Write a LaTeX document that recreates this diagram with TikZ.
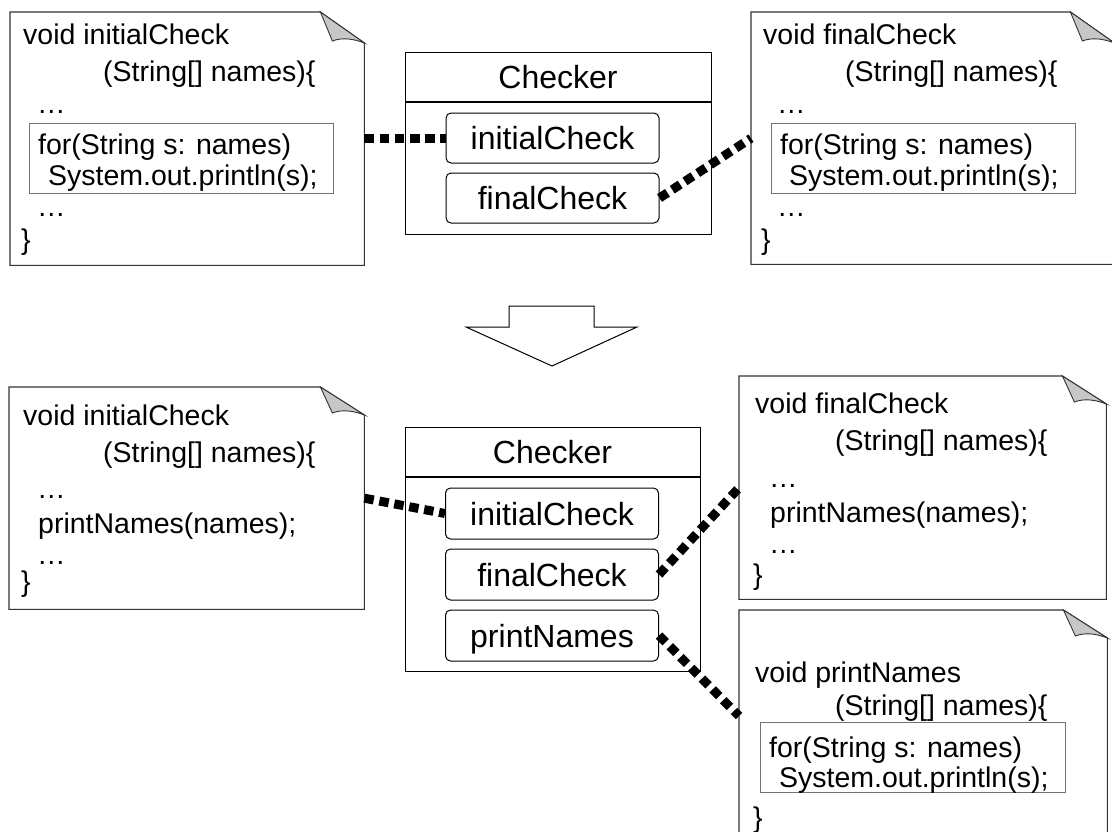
\documentclass[tikz,border=0pt]{standalone}
\usepackage{fontspec}
\setmainfont{Liberation Sans}
\newcommand\drawnote[2]{% #1 = note node, #2 = fold depth
  \path[noteline] (#1.south west) -- (#1.north west) -- ([xshift=-44pt]#1.north east)
    -- ([yshift=-#2pt]#1.north east) -- (#1.south east) -- cycle;
  \path[fold] ([xshift=-44pt]#1.north east) -- ([xshift=-32pt,yshift=-#2pt+2pt]#1.north east)
    .. controls ([xshift=-22pt,yshift=-#2pt+6pt]#1.north east) and ([xshift=-10pt,yshift=-#2pt+4pt]#1.north east)
    .. ([yshift=-#2pt]#1.north east) -- cycle;}
\begin{document}
\begin{tikzpicture}[x=1pt,y=-1pt,
  notearea/.style={inner sep=0pt, anchor=north west},
  notetxt/.style={anchor=base west, inner sep=0pt, font=\fontsize{28.5}{34}\selectfont},
  noteline/.style={draw=black!80, line width=1.1pt, fill=white},
  fold/.style={draw=black!80, line width=0.9pt, fill=black!22},
  loopbox/.style={draw=black!55, line width=1pt, inner sep=0pt, anchor=north west},
  clsbox/.style={draw=black, line width=1.2pt, inner sep=0pt, anchor=north west},
  clsname/.style={inner sep=0pt, text height=23pt, text depth=0pt, font=\fontsize{32}{38}\selectfont},
  method/.style={draw=black, line width=1pt, rounded corners=5pt, minimum width=213pt,
    minimum height=50pt, inner sep=0pt, text height=23pt, text depth=0pt,
    font=\fontsize{32}{38}\selectfont},
  conn/.style={line width=9pt, dash pattern=on 9.5pt off 5.7pt},
  bigarrow/.style={draw=black, line width=1pt, fill=white}
]
\clip (0,0) rectangle (1112,831);

% ---------- before: notes ----------
\node[notearea, minimum width=354pt, minimum height=253pt] (n1) at (10,12) {};
\drawnote{n1}{31}
\node[notetxt] (a1) at (23,44) {void initialCheck};
\node[notetxt] (a2) at (103,81) {(String[] names)\{};
\node[notetxt] (a3) at (37,113) {…};
\node[loopbox, minimum width=304pt, minimum height=70pt] (a4) at (29,123) {};
\node[notetxt] (a5) at (38,154) {for(String s: names)};
\node[notetxt] (a6) at (48,185) {System.out.println(s);};
\node[notetxt] (a7) at (37,216) {…};
\node[notetxt] (a8) at (21,249) {\}};

\node[notearea, minimum width=363pt, minimum height=252pt] (n2) at (751,12) {};
\drawnote{n2}{31}
\node[notetxt] (b1) at (763,44) {void finalCheck};
\node[notetxt] (b2) at (845,81) {(String[] names)\{};
\node[notetxt] (b3) at (777,113) {…};
\node[loopbox, minimum width=304pt, minimum height=70pt] (b4) at (771,123) {};
\node[notetxt] (b5) at (780,154) {for(String s: names)};
\node[notetxt] (b6) at (789,185) {System.out.println(s);};
\node[notetxt] (b7) at (777,216) {…};
\node[notetxt] (b8) at (761,249) {\}};

% ---------- before: class ----------
\node[clsbox, minimum width=306pt, minimum height=182pt] (c1) at (405,52) {};
\draw[line width=1.2pt] ([yshift=-50pt]c1.north west) -- ([yshift=-50pt]c1.north east);
\node[clsname] (c1t) at (558,77) {Checker};
\node[method] (ic1) at (552.5,138) {initialCheck};
\node[method] (fc1) at (552.5,198) {finalCheck};

\draw[conn] (ic1.west -| n1.east) -- (ic1.west);
\draw[conn] (fc1.east) -- (n2.west);

% ---------- refactoring arrow ----------
\draw[bigarrow] (509,306) -- (594,306) -- (594,327) -- (637,327) -- (552,366)
  -- (466,327) -- (509,327) -- cycle;

% ---------- after: notes ----------
\node[notearea, minimum width=355pt, minimum height=222pt] (n3) at (9,387) {};
\drawnote{n3}{28}
\node[notetxt] (d1) at (23,425) {void initialCheck};
\node[notetxt] (d2) at (103,462) {(String[] names)\{};
\node[notetxt] (d3) at (37,498) {…};
\node[notetxt] (d4) at (38,533) {printNames(names);};
\node[notetxt] (d5) at (37,564) {…};
\node[notetxt] (d6) at (21,591) {\}};

\node[notearea, minimum width=367pt, minimum height=223pt] (n4) at (739,376) {};
\drawnote{n4}{28}
\node[notetxt] (e1) at (755,413) {void finalCheck};
\node[notetxt] (e2) at (835,450) {(String[] names)\{};
\node[notetxt] (e3) at (769,487) {…};
\node[notetxt] (e4) at (770,522) {printNames(names);};
\node[notetxt] (e5) at (769,553) {…};
\node[notetxt] (e6) at (753,584) {\}};

\node[notearea, minimum width=368pt, minimum height=240pt] (n5) at (739,610) {};
\drawnote{n5}{28}
\coordinate (n5in) at ([yshift=-106pt]n5.north west);
\node[notetxt] (f1) at (755,682) {void printNames};
\node[notetxt] (f2) at (835,715) {(String[] names)\{};
\node[loopbox, minimum width=305pt, minimum height=70pt] (f3) at (760,722) {};
\node[notetxt] (f4) at (769,757) {for(String s: names)};
\node[notetxt] (f5) at (779,787) {System.out.println(s);};
\node[notetxt] (f6) at (753,827) {\}};

% ---------- after: class ----------
\node[clsbox, minimum width=295pt, minimum height=244pt] (c2) at (405,427) {};
\draw[line width=1.2pt] ([yshift=-50pt]c2.north west) -- ([yshift=-50pt]c2.north east);
\node[clsname] (c2t) at (552.5,452) {Checker};
\node[method, minimum height=51pt] (ic2) at (552,513.5) {initialCheck};
\node[method, minimum height=51pt] (fc2) at (552,574.5) {finalCheck};
\node[method, minimum height=51pt] (pn2) at (552,635.5) {printNames};

\draw[conn] (n3.east) -- (ic2.west);
\draw[conn] (fc2.east) -- (n4.west);
\draw[conn] (pn2.east) -- (n5in);
\end{tikzpicture}
\end{document}
